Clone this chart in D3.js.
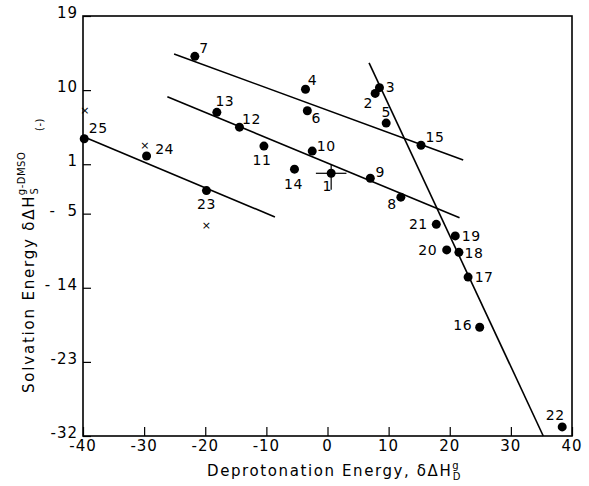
<!DOCTYPE html>
<html><head><meta charset="utf-8">
<script src="https://cdn.jsdelivr.net/npm/d3@7"></script>
<style>
html,body{margin:0;padding:0;background:#fff;}
svg{display:block;font-family:"DejaVu Sans",sans-serif;}
</style></head>
<body>
<svg id="chart" width="589" height="486"></svg>
<script>
// ---- data ----
const pointIds = ["1","2","3","4","5","6","7","8","9","10","11","12","13","14","15","16","17","18","19","20","21","22","23","24","25"];
const deprotonation = [0.6, 7.8, 8.5, -3.6, 9.6, -3.3, -21.7, 12.0, 7.0, -2.5, -10.4, -14.4, -18.1, -5.4, 15.3, 24.9, 23.0, 21.5, 20.9, 19.5, 17.8, 38.4, -19.8, -29.6, -39.8];
const solvation   = [-0.1, 9.6, 10.3, 10.1, 6.0, 7.5, 14.1, -3.0, -0.7, 2.6, 3.2, 5.5, 7.3, 0.4, 3.3, -18.8, -12.7, -9.7, -7.7, -9.4, -6.3, -30.9, -2.2, 2.0, 4.1];
const crossX = [-39.7, -29.9, -19.8];
const crossY = [7.5, 3.25, -6.4];
// error bars on point 1
const errX = [-2.5, 2.5];
const errY = [-2.0, 1.0];
// fitted lines: start and end points
const lineX1 = [-25.1, -26.2, -39.8, 6.8];
const lineY1 = [14.4, 9.2, 4.3, 13.3];
const lineX2 = [22.2, 21.6, -8.6, 35.3];
const lineY2 = [1.5, -5.5, -5.4, -32];
const xTicks = [-40, -30, -20, -10, 0, 10, 20, 30, 40];
const yTicks = [19, 10, 1, -5, -14, -23, -32];
const yTickLabels = ["19", "10", "1", "-  5", "- 14", "-23", "-32"];

// ---- label placement (pixel offsets) ----
const labelOffsets = {
  "1":[-4,13],"2":[-7,10],"3":[11,-1],"4":[7,-9],"5":[0,-11],"6":[9,7],"7":[9,-8],
  "8":[-9,7],"9":[10,-6],"10":[14,-5],"11":[-2,14],"12":[12,-8],"13":[8,-11],
  "14":[-1,15],"15":[14,-8],"16":[-17,-2],"17":[16,0],"18":[15,1],"19":[16,0],
  "20":[-19,0],"21":[-18,0],"22":[-7,-12],"23":[0,13],"24":[18,-7],"25":[14,-11]
};

const svg = d3.select("#chart");
const mLeft = 83, mRight = 572, mTop = 16, mBottom = 436;
const x = d3.scaleLinear().domain([-40, 40]).range([mLeft, mRight]);
const y = d3.scaleLinear().domain([-32, 19]).range([mBottom, mTop]);

// frame
svg.append("rect").attr("x", mLeft).attr("y", mTop).attr("width", mRight-mLeft).attr("height", mBottom-mTop)
  .attr("fill","none").attr("stroke","#000").attr("stroke-width",1.6);

// axes with inward ticks
const xAxis = svg.append("g").attr("transform",`translate(0,${mBottom})`)
  .call(d3.axisTop(x).tickValues(xTicks).tickSize(9).tickFormat(""));
xAxis.select(".domain").remove();
xAxis.selectAll("line").attr("stroke","#000").attr("stroke-width",1.2);
svg.append("g").selectAll("text").data(xTicks).join("text")
  .attr("x", d=>x(d)).attr("y", mBottom+15).attr("text-anchor","middle")
  .attr("font-size",15).attr("letter-spacing",1).text(d=>d);

const yAxis = svg.append("g").attr("transform",`translate(${mLeft},0)`)
  .call(d3.axisRight(y).tickValues(yTicks).tickSize(8).tickFormat(""));
yAxis.select(".domain").remove();
yAxis.selectAll("line").attr("stroke","#000").attr("stroke-width",1.2);
svg.append("g").selectAll("text").data(yTicks).join("text")
  .attr("x", mLeft-5).attr("y", d=>y(d)+2).attr("text-anchor","end")
  .style("white-space","pre")
  .attr("font-size",15).attr("letter-spacing",1).text((d,i)=>yTickLabels[i]);

// fit lines
svg.append("g").selectAll("line").data(lineX1).join("line")
  .attr("x1",(d,i)=>x(lineX1[i])).attr("y1",(d,i)=>y(lineY1[i]))
  .attr("x2",(d,i)=>x(lineX2[i])).attr("y2",(d,i)=>y(lineY2[i]))
  .attr("stroke","#000").attr("stroke-width",1.6);

// error bars on point 1
const p1x = deprotonation[0], p1y = solvation[0];
svg.append("line").attr("x1",x(p1x+errX[0])).attr("x2",x(p1x+errX[1]))
  .attr("y1",y(p1y)).attr("y2",y(p1y)).attr("stroke","#000").attr("stroke-width",1.2);
svg.append("line").attr("x1",x(p1x)).attr("x2",x(p1x))
  .attr("y1",y(p1y+errY[0])).attr("y2",y(p1y+errY[1])).attr("stroke","#000").attr("stroke-width",1.2);

// points
svg.append("g").selectAll("circle").data(pointIds).join("circle")
  .attr("cx",(d,i)=>x(deprotonation[i])).attr("cy",(d,i)=>y(solvation[i]))
  .attr("r",4.5).attr("fill","#000");

// point labels
svg.append("g").selectAll("text").data(pointIds).join("text")
  .attr("x",(d,i)=>x(deprotonation[i])+labelOffsets[d][0])
  .attr("y",(d,i)=>y(solvation[i])+labelOffsets[d][1])
  .attr("text-anchor","middle").attr("dominant-baseline","central")
  .attr("font-size",14).attr("letter-spacing",0.5).text(d=>d);

// x markers
svg.append("g").selectAll("text").data(crossX).join("text")
  .attr("x",(d,i)=>x(d)).attr("y",(d,i)=>y(crossY[i]))
  .attr("text-anchor","middle").attr("dominant-baseline","central")
  .attr("font-size",11).text("×");

// x title
const xt = svg.append("text").attr("x",207).attr("y",476).attr("font-size",15).attr("letter-spacing",1.6);
xt.append("tspan").text("Deprotonation Energy,  δΔH");
xt.append("tspan").attr("font-size",10).attr("dy",-7).attr("letter-spacing",0).text("g");
xt.append("tspan").attr("font-size",10).attr("dx",-6).attr("dy",11).attr("letter-spacing",0).text("D");

// y title
const yg = svg.append("g").attr("transform","translate(34,393) rotate(-90)");
const yt = yg.append("text").attr("x",0).attr("y",0).attr("font-size",15).attr("letter-spacing",1.8);
yt.append("tspan").text("Solvation Energy  δΔH");
yt.append("tspan").attr("font-size",10).attr("dy",4).attr("letter-spacing",0).text("S");
yt.append("tspan").attr("font-size",10).attr("dx",-7).attr("dy",-13).attr("letter-spacing",0.5).text("g-DMSO");
yg.append("text").attr("x",262).attr("y",9).attr("font-size",10).attr("letter-spacing",0.5).text("(-)");
</script>
</body></html>
